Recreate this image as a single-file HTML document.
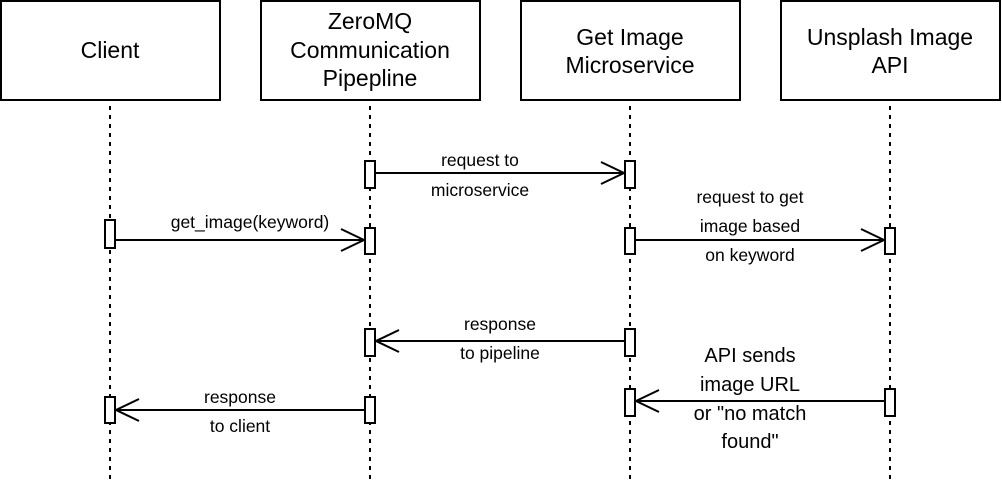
<!DOCTYPE html>
<html><head><meta charset="utf-8"><style>
html,body{margin:0;padding:0;background:#fff;}
svg{display:block;font-family:"Liberation Sans",Arial,sans-serif;}
</style></head><body>
<svg width="1002" height="484" viewBox="0 0 1002 484" xmlns="http://www.w3.org/2000/svg">
<g stroke="#000" stroke-width="2" fill="#fff">
<rect x="1" y="1" width="219" height="99"/>
<rect x="261" y="1" width="219" height="99"/>
<rect x="521" y="1" width="219" height="99"/>
<rect x="781" y="1" width="219" height="99"/>
</g>
<g stroke="#000" stroke-width="2" stroke-dasharray="4 5">
<line x1="110" y1="106" x2="110" y2="484"/>
<line x1="370" y1="106" x2="370" y2="484"/>
<line x1="630" y1="106" x2="630" y2="484"/>
<line x1="890" y1="106" x2="890" y2="484"/>
</g>
<g font-size="23" text-anchor="middle" fill="#000">
<text x="110" y="58">Client</text>
<text x="370" y="29">ZeroMQ</text>
<text x="370" y="58">Communication</text>
<text x="370" y="86">Pipepline</text>
<text x="630" y="45">Get Image</text>
<text x="630" y="73">Microservice</text>
<text x="890" y="45">Unsplash Image</text>
<text x="890" y="73">API</text>
</g>
<g stroke="#000" stroke-width="2" fill="none">
<line x1="375" y1="173" x2="624" y2="173"/><polyline points="601,162 624,173 601,184"/>
<line x1="115" y1="240" x2="364" y2="240"/><polyline points="341,229 364,240 341,251"/>
<line x1="635" y1="240" x2="884" y2="240"/><polyline points="861,229 884,240 861,251"/>
<line x1="625" y1="341" x2="376" y2="341"/><polyline points="399,330 376,341 399,352"/>
<line x1="885" y1="401" x2="636" y2="401"/><polyline points="659,390 636,401 659,412"/>
<line x1="365" y1="410" x2="116" y2="410"/><polyline points="139,399 116,410 139,421"/>
</g>
<g stroke="#000" stroke-width="2" fill="#fff">
<rect x="365" y="161" width="10" height="27"/>
<rect x="625" y="161" width="10" height="27"/>
<rect x="105" y="220" width="10" height="28"/>
<rect x="365" y="228" width="10" height="26"/>
<rect x="625" y="228" width="10" height="26"/>
<rect x="885" y="228" width="10" height="26"/>
<rect x="365" y="329" width="10" height="27"/>
<rect x="625" y="329" width="10" height="27"/>
<rect x="625" y="389" width="10" height="27"/>
<rect x="885" y="389" width="10" height="27"/>
<rect x="105" y="397" width="10" height="26"/>
<rect x="365" y="397" width="10" height="26"/>
</g>
<g font-size="17.5" text-anchor="middle" fill="#000">
<text x="480" y="166">request to</text>
<text x="480" y="196">microservice</text>
<text x="250" y="228">get_image(keyword)</text>
<text x="750" y="203">request to get</text>
<text x="750" y="232">image based</text>
<text x="750" y="261">on keyword</text>
<text x="500" y="330">response</text>
<text x="500" y="359">to pipeline</text>
<text x="240" y="403">response</text>
<text x="240" y="432">to client</text>
</g>
<g font-size="20" text-anchor="middle" fill="#000">
<text x="750" y="362">API sends</text>
<text x="750" y="391">image URL</text>
<text x="750" y="420">or "no match</text>
<text x="750" y="448">found"</text>
</g>
</svg>
</body></html>
